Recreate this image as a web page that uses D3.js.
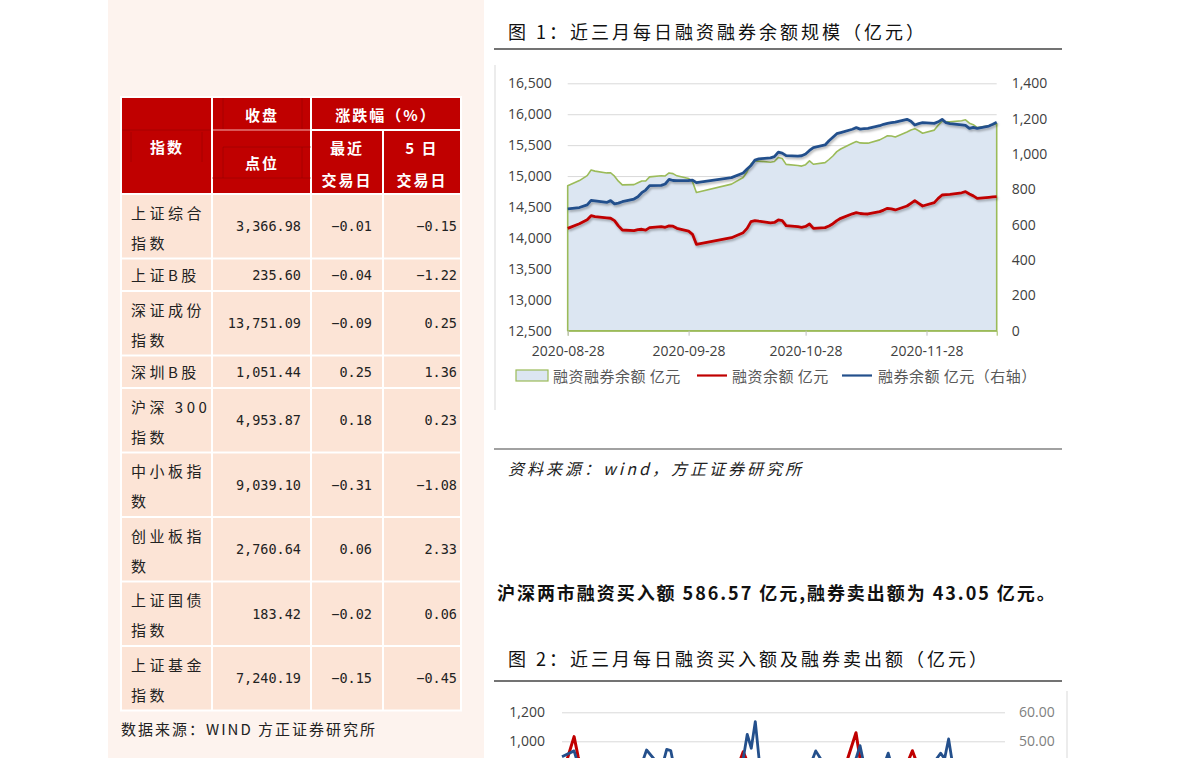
<!DOCTYPE html>
<html>
<head>
<meta charset="utf-8">
<script src="https://cdn.jsdelivr.net/npm/d3@7"></script>
<style>
  body { margin: 0; overflow: hidden; background: #fff; }
  svg { display: block; }
</style>
</head>
<body>
<svg id="page" width="1191" height="758"></svg>
<script>
// ---------- table data ----------
var tableNames = [["上证综合", "指数"], ["上证B股"], ["深证成份", "指数"], ["深圳B股"], ["沪深 300", "指数"],
                  ["中小板指", "数"], ["创业板指", "数"], ["上证国债", "指数"], ["上证基金", "指数"]];
var tableClose = ["3,366.98", "235.60", "13,751.09", "1,051.44", "4,953.87", "9,039.10", "2,760.64", "183.42", "7,240.19"];
var tableChg1 = ["-0.01", "-0.04", "-0.09", "0.25", "0.18", "-0.31", "0.06", "-0.02", "-0.15"];
var tableChg5 = ["-0.15", "-1.22", "0.25", "1.36", "0.23", "-1.08", "2.33", "0.06", "-0.45"];

// ---------- chart 1 data (亿元) ----------
var dates1 = ["2020-08-28","2020-08-31","2020-09-02","2020-09-03","2020-09-04","2020-09-07","2020-09-08","2020-09-09",
  "2020-09-10","2020-09-11","2020-09-14","2020-09-15","2020-09-16","2020-09-17","2020-09-18","2020-09-21","2020-09-22",
  "2020-09-23","2020-09-24","2020-09-25","2020-09-28","2020-09-29","2020-09-30","2020-10-09","2020-10-12","2020-10-13",
  "2020-10-14","2020-10-15","2020-10-16","2020-10-19","2020-10-20","2020-10-21","2020-10-22","2020-10-23","2020-10-26",
  "2020-10-27","2020-10-28","2020-10-29","2020-10-30","2020-11-02","2020-11-03","2020-11-04","2020-11-05","2020-11-06",
  "2020-11-09","2020-11-10","2020-11-11","2020-11-12","2020-11-13","2020-11-16","2020-11-17","2020-11-18","2020-11-19",
  "2020-11-20","2020-11-23","2020-11-24","2020-11-25","2020-11-26","2020-11-27","2020-11-30","2020-12-01","2020-12-02",
  "2020-12-03","2020-12-04","2020-12-07","2020-12-08","2020-12-09","2020-12-10","2020-12-11","2020-12-14","2020-12-15",
  "2020-12-16"];
var totalBal = [14844,14927,15007,15098,15080,15051,15054,14998,14917,14858,14862,14893,14921,14921,14987,15004,15002,
  15051,15040,15004,14960,14910,14735,14870,14977,15070,15198,15245,15242,15223,15235,15300,15284,15189,15170,15161,
  15185,15245,15191,15217,15268,15325,15395,15438,15530,15558,15536,15533,15532,15585,15618,15652,15647,15632,15712,
  15745,15767,15732,15693,15743,15822,15890,15877,15877,15895,15910,15855,15831,15785,15814,15830,15846];
var finBal = [14155,14230,14295,14360,14345,14325,14318,14280,14195,14128,14117,14135,14140,14125,14166,14182,14172,
  14195,14190,14155,14110,14058,13897,14004,14085,14155,14263,14280,14270,14245,14250,14290,14279,14198,14182,14171,
  14185,14225,14155,14166,14193,14230,14280,14317,14390,14409,14395,14390,14387,14425,14450,14479,14470,14452,14516,
  14560,14603,14560,14516,14570,14640,14694,14700,14705,14730,14748,14710,14680,14640,14656,14662,14667];
var secBal = [689,697,712,738,735,726,736,718,722,730,745,758,781,796,821,822,830,856,850,849,850,852,838,866,892,915,
  935,965,972,978,985,1010,1005,991,988,990,1000,1020,1036,1051,1075,1095,1115,1121,1140,1149,1141,1143,1145,1160,1168,
  1173,1177,1180,1196,1185,1164,1172,1177,1173,1182,1196,1177,1172,1165,1162,1145,1151,1145,1158,1168,1179];
var ticks1 = ["2020-08-28", "2020-09-28", "2020-10-28", "2020-11-28"];

// ---------- chart 2 data (亿元) ----------
var dates2 = ["2020-08-28","2020-08-31","2020-09-01","2020-09-02","2020-09-03","2020-09-04","2020-09-07","2020-09-08",
  "2020-09-09","2020-09-10","2020-09-11","2020-09-14","2020-09-15","2020-09-16","2020-09-17","2020-09-18","2020-09-21",
  "2020-09-22","2020-09-23","2020-09-24","2020-09-25","2020-09-28","2020-09-29","2020-09-30","2020-10-09","2020-10-12",
  "2020-10-13","2020-10-14","2020-10-15","2020-10-16","2020-10-19","2020-10-20","2020-10-21","2020-10-22","2020-10-23",
  "2020-10-26","2020-10-27","2020-10-28","2020-10-29","2020-10-30","2020-11-02","2020-11-03","2020-11-04","2020-11-05",
  "2020-11-06","2020-11-09","2020-11-10","2020-11-11","2020-11-12","2020-11-13","2020-11-16","2020-11-17","2020-11-18",
  "2020-11-19","2020-11-20","2020-11-23","2020-11-24","2020-11-25","2020-11-26","2020-11-27","2020-11-30","2020-12-01",
  "2020-12-02","2020-12-03","2020-12-04","2020-12-07","2020-12-08","2020-12-09","2020-12-10","2020-12-11","2020-12-14",
  "2020-12-15","2020-12-16"];
var buyAmt = [760,1032,895,790,820,700,760,720,650,640,600,620,640,620,600,660,650,600,620,640,560,540,560,580,700,928,
  860,820,780,700,720,680,650,640,660,620,600,640,660,700,650,720,760,820,800,1059,880,820,740,700,760,780,760,740,730,
  935,860,800,720,760,840,830,820,780,720,760,720,700,660,680,620,600,630];
var sellAmt = [44.7,46.7,42,38,40,36,38,37,36,38,37,39,40,41,43,47,42,42,47.2,46.8,40,38,37,36,38,44,52.4,47.6,56.8,43,
  41,40,38,39,40,38,40,42,43,46.7,40,41,40,43,42,44,48.5,42,40,41,42,45.9,41,40,39,41,40,39,38,40,45.9,44,50.8,42,40,
  38,39,38,37,38,36,37,38];
var ticks2L = [1000, 1200];
var ticks2R = [50, 60];

// ---------- setup ----------
var cjk = "'Noto Sans CJK SC', sans-serif";
var mono = "'DejaVu Sans Mono', monospace";
var latin = "'Open Sans', 'Liberation Sans', sans-serif";
var parse = d3.timeParse("%Y-%m-%d");
var svg = d3.select("#page");

var defs = svg.append("defs");
defs.append("filter").attr("id", "shadow")
  .attr("x", "-5%").attr("y", "-30%").attr("width", "110%").attr("height", "160%")
  .append("feDropShadow")
  .attr("dx", 1.2).attr("dy", 1.8).attr("stdDeviation", 1)
  .attr("flood-color", "#000").attr("flood-opacity", 0.3);

// left panel
svg.append("rect").attr("x", 108).attr("y", 0).attr("width", 376).attr("height", 758).attr("fill", "#fdf3ee");

// ---------- table ----------
var colX = [121, 212, 311, 383, 461];
var rowY = [194];
tableNames.forEach(function (n, i) { rowY.push(rowY[i] + (n.length > 1 ? 64.5 : 32.5)); });

var tbl = svg.append("g");
tbl.append("rect").attr("x", colX[0] - 1).attr("y", 96)
  .attr("width", colX[4] - colX[0] + 2).attr("height", rowY[rowY.length - 1] - 95)
  .attr("fill", "#fff");

var headCells = [[121, 212, 97, 194], [212, 311, 97, 194], [311, 461, 97, 130], [311, 383, 130, 194], [383, 461, 130, 194]];
tbl.selectAll("rect.head").data(headCells).enter().append("rect")
  .attr("class", "head")
  .attr("x", function (d) { return d[0] + 1; })
  .attr("y", function (d) { return d[2] + 1; })
  .attr("width", function (d) { return d[1] - d[0] - 2; })
  .attr("height", function (d) { return d[3] - d[2] - 2; })
  .attr("fill", "#c00000");

// faint inner lines in the header (scan artefacts of the source)
var headLines = [[223, 98, 223, 129], [302, 98, 302, 129], [223, 147, 223, 178], [302, 147, 302, 178],
                 [223, 147, 311, 147], [212, 178, 311, 178], [131, 132, 131, 162], [202, 132, 202, 162], [122, 130, 211, 130]];
tbl.selectAll("line.hl").data(headLines).enter().append("line")
  .attr("x1", function (d) { return d[0]; }).attr("y1", function (d) { return d[1]; })
  .attr("x2", function (d) { return d[2]; }).attr("y2", function (d) { return d[3]; })
  .attr("stroke", "#8a0000").attr("stroke-width", 0.8).attr("opacity", 0.6);
tbl.append("line").attr("x1", 213).attr("x2", 310).attr("y1", 130).attr("y2", 130)
  .attr("stroke", "#f3b0b0").attr("stroke-width", 1);

var headText = [["指数", 167, 146], ["收盘", 262, 114], ["点位", 262, 162], ["涨跌幅（%）", 386, 114],
                ["最近", 347, 147], ["交易日", 347, 179], ["5 日", 422, 147], ["交易日", 422, 179]];
tbl.selectAll("text.head").data(headText).enter().append("text")
  .attr("x", function (d) { return d[1]; })
  .attr("y", function (d) { return d[2]; })
  .attr("text-anchor", "middle").attr("dominant-baseline", "central")
  .attr("font-family", cjk).attr("font-size", 15).attr("font-weight", "bold")
  .attr("letter-spacing", 2).attr("fill", "#fff")
  .text(function (d) { return d[0]; });

var rows = tbl.selectAll("g.row").data(tableNames).enter().append("g").attr("class", "row");
rows.each(function (names, i) {
  var g = d3.select(this);
  var y0 = rowY[i], y1 = rowY[i + 1];
  for (var j = 0; j < 4; j++) {
    g.append("rect").attr("x", colX[j] + 1).attr("y", y0 + 1)
      .attr("width", colX[j + 1] - colX[j] - 2).attr("height", y1 - y0 - 2)
      .attr("fill", "#fce4d6");
  }
  names.forEach(function (s, k) {
    var yy = names.length > 1 ? y0 + 18 + k * 30 : (y0 + y1) / 2;
    g.append("text").attr("x", 131).attr("y", yy)
      .attr("dominant-baseline", "central")
      .attr("font-family", cjk).attr("font-size", 15).attr("letter-spacing", 3.5)
      .attr("fill", "#222").text(s);
  });
  var nums = [tableClose[i], tableChg1[i], tableChg5[i]];
  var rx = [301, 372, 457];
  nums.forEach(function (v, k) {
    g.append("text").attr("x", rx[k]).attr("y", (y0 + y1) / 2)
      .attr("text-anchor", "end").attr("dominant-baseline", "central")
      .attr("font-family", mono).attr("font-size", 13.5)
      .attr("fill", "#222").text(v.replace("-", "−"));
  });
});

svg.append("text").attr("x", 121).attr("y", 728).attr("dominant-baseline", "central")
  .attr("font-family", cjk).attr("font-size", 15).attr("letter-spacing", 2).attr("fill", "#222")
  .text("数据来源：WIND 方正证券研究所");

// ---------- chart 1 ----------
svg.append("text").attr("x", 508).attr("y", 31).attr("dominant-baseline", "central")
  .attr("font-family", cjk).attr("font-size", 18).attr("letter-spacing", 3).attr("fill", "#111")
  .text("图 1：近三月每日融资融券余额规模（亿元）");
svg.append("line").attr("x1", 494).attr("x2", 1062).attr("y1", 49).attr("y2", 49)
  .attr("stroke", "#444").attr("stroke-width", 1.5);
svg.append("line").attr("x1", 495).attr("x2", 495).attr("y1", 65).attr("y2", 410)
  .attr("stroke", "#d9d9d9").attr("stroke-width", 1);

var data1 = dates1.map(function (d, i) {
  return { date: parse(d), total: totalBal[i], fin: finBal[i], sec: secBal[i] };
});
var x1 = d3.scaleTime().domain([parse("2020-08-28"), parse("2020-12-16")]).range([567.7, 996.7]);
var yL = d3.scaleLinear().domain([12500, 16500]).range([330.7, 83.3]);
var yR = d3.scaleLinear().domain([0, 1400]).range([330.7, 83.3]);

var c1 = svg.append("g");
c1.append("g").attr("transform", "translate(567.7,0)")
  .call(d3.axisLeft(yL).tickValues(d3.range(12500, 16501, 500)).tickSize(-(996.7 - 567.7)).tickFormat(""))
  .call(function (g) { g.select(".domain").remove(); g.selectAll("line").attr("stroke", "#d9d9d9"); });

c1.append("path").datum(data1)
  .attr("d", d3.area().x(function (d) { return x1(d.date); }).y0(yL(12500)).y1(function (d) { return yL(d.total); }))
  .attr("fill", "#dce6f2").attr("stroke", "#9bbb59").attr("stroke-width", 1.6).attr("stroke-linejoin", "round");

c1.append("path").datum(data1)
  .attr("d", d3.line().x(function (d) { return x1(d.date); }).y(function (d) { return yL(d.fin); }))
  .attr("fill", "none").attr("stroke", "#c00000").attr("stroke-width", 2.8)
  .attr("stroke-linejoin", "round").attr("filter", "url(#shadow)");
c1.append("path").datum(data1)
  .attr("d", d3.line().x(function (d) { return x1(d.date); }).y(function (d) { return yR(d.sec); }))
  .attr("fill", "none").attr("stroke", "#24508c").attr("stroke-width", 2.8)
  .attr("stroke-linejoin", "round").attr("filter", "url(#shadow)");

var axL = c1.append("g").attr("transform", "translate(567.7,0)")
  .call(d3.axisLeft(yL).tickValues(d3.range(12500, 16501, 500)).tickSize(0).tickPadding(16).tickFormat(d3.format(",")));
var axR = c1.append("g").attr("transform", "translate(996.7,0)")
  .call(d3.axisRight(yR).tickValues(d3.range(0, 1401, 200)).tickSize(0).tickPadding(15).tickFormat(d3.format(",")));
var axB = c1.append("g").attr("transform", "translate(0,330.7)")
  .call(d3.axisBottom(x1).tickValues(ticks1.map(parse)).tickSize(5).tickPadding(10)
    .tickFormat(d3.timeFormat("%Y-%m-%d")));
[axL, axR].forEach(function (a) { a.select(".domain").remove(); });
axB.select(".domain").attr("stroke", "#9bbb59");
axB.selectAll("line").attr("stroke", "#bfbfbf");
[axL, axR, axB].forEach(function (a) {
  a.selectAll("text").attr("font-family", latin).attr("font-size", 14).attr("fill", "#404040");
});

// legend
var leg = c1.append("g").attr("font-family", cjk).attr("font-size", 15).attr("fill", "#595959");
leg.append("rect").attr("x", 516).attr("y", 370).attr("width", 32).attr("height", 11)
  .attr("fill", "#dce6f2").attr("stroke", "#9bbb59").attr("stroke-width", 1.2);
var legItems = [
  { label: "融资融券余额 亿元", tx: 553 },
  { label: "融资余额 亿元", tx: 732, color: "#c00000", lx: 697 },
  { label: "融券余额 亿元（右轴）", tx: 878, color: "#24508c", lx: 842 }
];
legItems.forEach(function (d) {
  if (d.color) {
    leg.append("line").attr("x1", d.lx).attr("x2", d.lx + 30).attr("y1", 375.5).attr("y2", 375.5)
      .attr("stroke", d.color).attr("stroke-width", 2.2);
  }
  leg.append("text").attr("x", d.tx).attr("y", 375.5).attr("dominant-baseline", "central")
    .attr("letter-spacing", 0.5).text(d.label);
});

svg.append("line").attr("x1", 494).attr("x2", 1062).attr("y1", 449).attr("y2", 449)
  .attr("stroke", "#444").attr("stroke-width", 1.2);
svg.append("text").attr("x", 508).attr("y", 468).attr("dominant-baseline", "central")
  .attr("font-family", cjk).attr("font-size", 16).attr("font-style", "italic")
  .attr("letter-spacing", 3).attr("fill", "#222")
  .text("资料来源：wind，方正证券研究所");

// ---------- summary line ----------
svg.append("text").attr("x", 497).attr("y", 592).attr("dominant-baseline", "central")
  .attr("font-family", cjk).attr("font-size", 18).attr("font-weight", "bold")
  .attr("letter-spacing", 1.95).attr("fill", "#111")
  .text("沪深两市融资买入额 586.57 亿元,融券卖出额为 43.05 亿元。");

// ---------- chart 2 ----------
svg.append("text").attr("x", 508).attr("y", 658).attr("dominant-baseline", "central")
  .attr("font-family", cjk).attr("font-size", 18).attr("letter-spacing", 3).attr("fill", "#111")
  .text("图 2：近三月每日融资买入额及融券卖出额（亿元）");
svg.append("line").attr("x1", 494).attr("x2", 1062).attr("y1", 681).attr("y2", 681)
  .attr("stroke", "#444").attr("stroke-width", 1.5);
svg.append("line").attr("x1", 1067).attr("x2", 1067).attr("y1", 691).attr("y2", 758)
  .attr("stroke", "#d9d9d9").attr("stroke-width", 1);

var data2 = dates2.map(function (d, i) { return { date: parse(d), buy: buyAmt[i], sell: sellAmt[i] }; });
var x2 = d3.scaleTime().domain([parse("2020-08-28"), parse("2020-12-16")]).range([562, 1005]);
var yL2 = d3.scaleLinear().domain([0, 1200]).range([886.3, 712.3]);
var yR2 = d3.scaleLinear().domain([0, 60]).range([886.3, 712.3]);

var c2 = svg.append("g");
c2.append("g").attr("transform", "translate(562,0)")
  .call(d3.axisLeft(yL2).tickValues(ticks2L).tickSize(-(1005 - 562)).tickFormat(""))
  .call(function (g) { g.select(".domain").remove(); g.selectAll("line").attr("stroke", "#d9d9d9"); });
c2.append("path").datum(data2)
  .attr("d", d3.line().x(function (d) { return x2(d.date); }).y(function (d) { return yL2(d.buy); }))
  .attr("fill", "none").attr("stroke", "#c00000").attr("stroke-width", 3).attr("stroke-linejoin", "round");
c2.append("path").datum(data2)
  .attr("d", d3.line().x(function (d) { return x2(d.date); }).y(function (d) { return yR2(d.sell); }))
  .attr("fill", "none").attr("stroke", "#24508c").attr("stroke-width", 2.8).attr("stroke-linejoin", "round");
var axL2 = c2.append("g").attr("transform", "translate(562,0)")
  .call(d3.axisLeft(yL2).tickValues(ticks2L).tickSize(0).tickPadding(17).tickFormat(d3.format(",")));
var axR2 = c2.append("g").attr("transform", "translate(1005,0)")
  .call(d3.axisRight(yR2).tickValues(ticks2R).tickSize(0).tickPadding(14).tickFormat(d3.format(".2f")));
[axL2, axR2].forEach(function (a) {
  a.select(".domain").remove();
  a.selectAll("text").attr("font-family", latin).attr("font-size", 14);
});
axL2.selectAll("text").attr("fill", "#404040");
axR2.selectAll("text").attr("fill", "#808080");
</script>
</body>
</html>
